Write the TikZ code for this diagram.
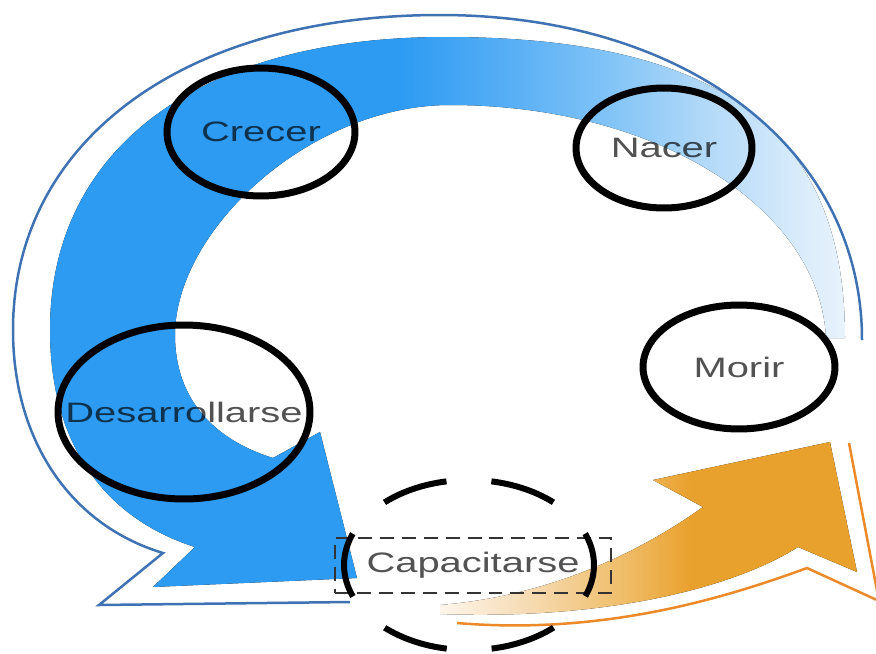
\documentclass[tikz,border=0pt]{standalone}
\usepackage{fontspec}
\newfontfamily\stagefont{Liberation Sans}[FakeStretch=1.42]
\usepackage{tikz}
\usetikzlibrary{shapes.geometric}

\definecolor{cycleblue}{RGB}{45,155,242}
\definecolor{cycleblueb}{RGB}{82,172,245}
\definecolor{cyclebluec}{RGB}{128,195,247}
\definecolor{cycleblued}{RGB}{176,216,248}
\definecolor{cyclebluee}{RGB}{216,235,251}
\definecolor{cyclelight}{RGB}{232,243,252}
\definecolor{cycleline}{RGB}{62,114,178}
\definecolor{cycleorange}{RGB}{233,161,46}
\definecolor{orangea}{RGB}{253,245,235}
\definecolor{orangeb}{RGB}{247,223,188}
\definecolor{orangec}{RGB}{240,192,112}
\definecolor{orangeline}{RGB}{236,137,40}

\pgfdeclarehorizontalshading{bluefade}{100bp}{color(0bp)=(cycleblue); color(47bp)=(cycleblue); color(53bp)=(cycleblueb); color(60bp)=(cyclebluec); color(66bp)=(cycleblued); color(72bp)=(cyclebluee); color(75bp)=(cyclelight); color(100bp)=(cyclelight)}
\pgfdeclarehorizontalshading{orangefade}{100bp}{color(0bp)=(orangea); color(25bp)=(orangea); color(34bp)=(orangeb); color(46bp)=(orangec); color(55bp)=(cycleorange); color(100bp)=(cycleorange)}

\begin{document}
\begin{tikzpicture}[
                    x=0.02cm, y=-0.02cm,
                    ring style/.style={
                        ellipse,
                        draw=black,
                        line width=0.14cm,
                        inner sep=0pt
                    },
                    dashed ring/.style={
                        ellipse,
                        draw=black,
                        line width=0.12cm,
                        dash pattern=on 1.32cm off 0.9cm,
                        dash phase=0.66cm,
                        inner sep=0pt
                    },
                    word style/.style={
                        font=\stagefont\fontsize{16}{18}\selectfont,
                        text=black,
                        text opacity=0.68,
                        inner sep=0pt
                    },
                    box style/.style={
                        word style,
                        draw=black!80,
                        line width=0.04cm,
                        dash pattern=on 0.28cm off 0.16cm,
                        minimum width=5.54cm,
                        minimum height=1.1cm
                    }
                ]
    \useasboundingbox (0,0) rectangle (876,653);

    \fill[shading=bluefade] (845,338) .. controls (845,131) and (721,37) .. (445,37)
        .. controls (200,37) and (50,148) .. (50,330)
        .. controls (50,450) and (110,520) .. (195,547)
        -- (153,587) -- (357,578) -- (320,432) -- (273,458)
        .. controls (215,440) and (175,400) .. (175,335)
        .. controls (175,230) and (310,105) .. (450,105)
        .. controls (660,105) and (820,210) .. (826,338) -- cycle;
    \draw[cycleline, line width=0.05cm] (862,340) .. controls (862,148) and (685,15) .. (440,15)
        .. controls (184,15) and (13,141) .. (13,330)
        .. controls (13,440) and (70,525) .. (163,553)
        -- (99,605) -- (350,602);

    \fill[shading=orangefade] (653,480) -- (830,442) -- (857,572) -- (798,547)
        .. controls (730,590) and (600,620) .. (440,614)
        -- (440,605) .. controls (560,595) and (650,545) .. (703,507) -- cycle;
    \draw[orangeline, line width=0.05cm] (457,623) .. controls (600,635) and (720,600) .. (807,568)
        -- (879,601) -- (849,443);

    \node[ring style, minimum width=3.76cm, minimum height=2.56cm,
          label={[word style]center:Crecer}] (crecer) at (261,132) {};
    \node[ring style, minimum width=3.52cm, minimum height=2.4cm,
          label={[word style]center:Nacer}] (nacer) at (664,148) {};
    \node[ring style, minimum width=3.84cm, minimum height=2.48cm,
          label={[word style]center:Morir}] (morir) at (739,367) {};
    \node[ring style, minimum width=5.04cm, minimum height=3.48cm,
          label={[word style]center:Desarrollarse}] (desarrollarse) at (184,412) {};
    \node[box style] (capacitarse) at (473,565) {Capacitarse};
    \node[dashed ring, minimum width=5.0cm, minimum height=3.4cm] (capacitarse ring) at (469,565) {};
\end{tikzpicture}
\end{document}
